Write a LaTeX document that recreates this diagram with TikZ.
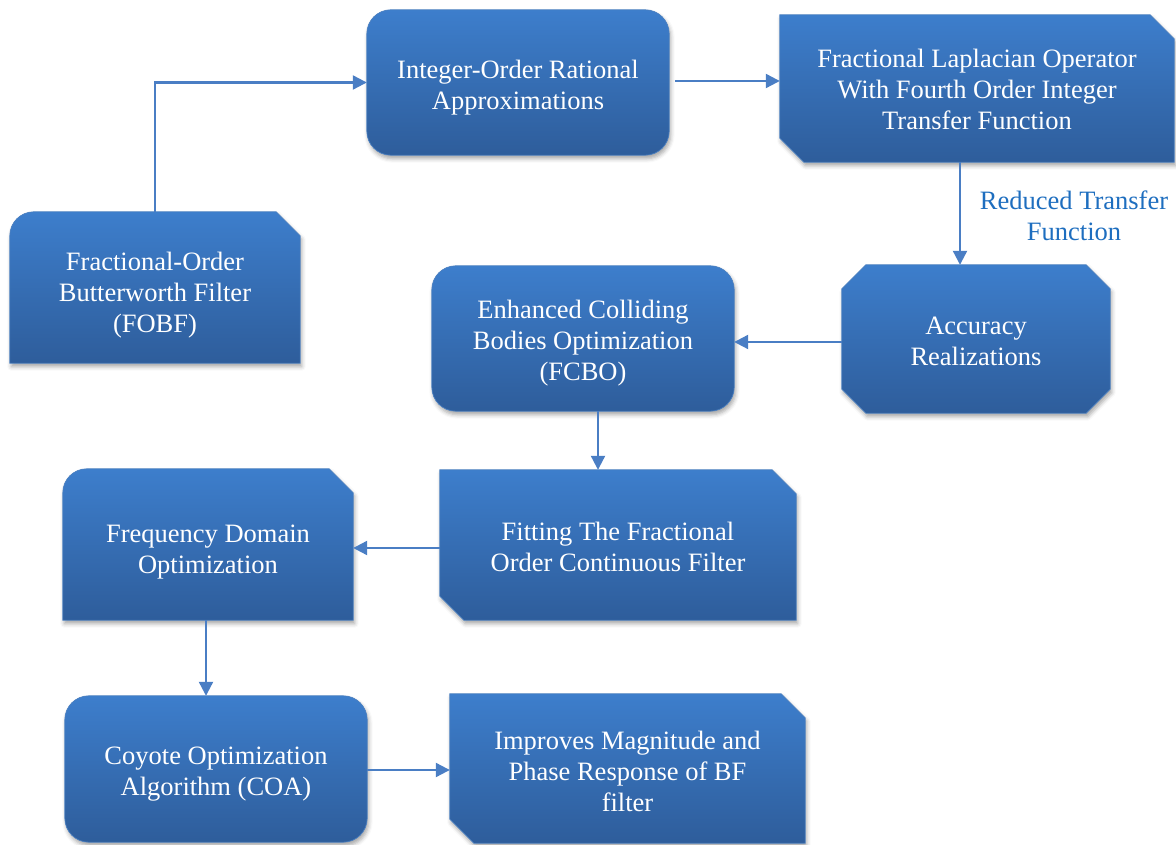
\documentclass[tikz,border=0pt]{standalone}
\usepackage{fontspec}
\setmainfont{Liberation Serif}
\usetikzlibrary{arrows.meta,shadows.blur,backgrounds,calc}
\definecolor{boxtop}{HTML}{3D7ECC}
\definecolor{boxbot}{HTML}{2E5D9B}
\definecolor{boxedge}{HTML}{4A7FC0}
\definecolor{arrowc}{HTML}{4A7EC4}
\definecolor{labelc}{HTML}{1E6EBF}
\newcommand\rr{24pt}
\newcommand\cc{24pt}
\newcommand\lowtext[2]{\raisebox{-#1}[\height][\depth]{\begin{tabular}{@{}c@{}}#2\end{tabular}}}
\tikzset{
  stepnode/.style={rectangle,inner sep=0pt,text=white,align=center,
    font=\fontsize{26.5}{31}\selectfont},
  boxfill/.style={top color=boxtop,bottom color=boxbot,draw=boxedge,line width=0.7pt,
    blur shadow={shadow xshift=1.5pt,shadow yshift=-3.5pt,shadow blur radius=4pt,shadow opacity=35}},
  conn/.style={draw=arrowc,line width=2.2pt,-{Triangle[length=14pt,width=14pt]}},
}
% TL round, TR cut
\newcommand\boxA[1]{\path[boxfill] ([xshift=\rr]#1.north west) -- ([xshift=-\cc]#1.north east)
  -- ([yshift=-\cc]#1.north east) -- (#1.south east) -- (#1.south west)
  -- ([yshift=-\rr]#1.north west) arc[start angle=180,end angle=90,radius=\rr] -- cycle;}
% all round
\newcommand\boxR[1]{\path[boxfill,rounded corners=\rr] (#1.north west) rectangle (#1.south east);}
% TR cut, BL cut
\newcommand\boxD[1]{\path[boxfill] (#1.north west) -- ([xshift=-\cc]#1.north east)
  -- ([yshift=-\cc]#1.north east) -- (#1.south east) -- ([xshift=\cc]#1.south west)
  -- ([yshift=\cc]#1.south west) -- cycle;}
% all cut
\newcommand\boxO[1]{\path[boxfill] ([xshift=\cc]#1.north west) -- ([xshift=-\cc]#1.north east)
  -- ([yshift=-\cc]#1.north east) -- ([yshift=\cc]#1.south east) -- ([xshift=-\cc]#1.south east)
  -- ([xshift=\cc]#1.south west) -- ([yshift=\cc]#1.south west) -- ([yshift=-\cc]#1.north west) -- cycle;}
\begin{document}
\begin{tikzpicture}[x=1pt,y=1pt]
\useasboundingbox (0,0) rectangle (1176,844);
\node[stepnode,minimum width=290pt,minimum height=151pt] (fobf) at (155,556.5)
  {\lowtext{8pt}{Fractional-Order\\Butterworth Filter\\(FOBF)}};
\node[stepnode,minimum width=302pt,minimum height=145pt] (int) at (518,761.5)
  {\lowtext{5pt}{Integer-Order Rational\\Approximations}};
\node[stepnode,minimum width=394pt,minimum height=147pt] (lap) at (977,755.5)
  {\lowtext{4pt}{Fractional Laplacian Operator\\With Fourth Order Integer\\Transfer Function}};
\node[stepnode,minimum width=268pt,minimum height=148pt] (acc) at (976,505)
  {\lowtext{5pt}{Accuracy\\Realizations}};
\node[stepnode,minimum width=302pt,minimum height=145pt] (enh) at (583,505.5)
  {\lowtext{5pt}{Enhanced Colliding\\Bodies Optimization\\(FCBO)}};
\node[stepnode,minimum width=356pt,minimum height=150pt] (fit) at (618,299)
  {\lowtext{4.5pt}{Fitting The Fractional\\Order Continuous Filter}};
\node[stepnode,minimum width=290pt,minimum height=151pt] (freq) at (208,299.5)
  {\lowtext{7pt}{Frequency Domain\\Optimization}};
\node[stepnode,minimum width=302pt,minimum height=146pt] (coy) at (216,75)
  {\lowtext{5pt}{Coyote Optimization\\Algorithm (COA)}};
\node[stepnode,minimum width=355pt,minimum height=149pt] (imp) at (627.5,75.5)
  {\lowtext{5.5pt}{Improves Magnitude and\\Phase Response of BF\\filter}};
\node[align=center,text=labelc,font=\fontsize{26.5}{31}\selectfont] (lbl) at (1074,628)
  {Reduced Transfer\\Function};
\begin{pgfonlayer}{background}
\boxA{fobf}
\boxR{int}
\boxD{lap}
\boxO{acc}
\boxR{enh}
\boxD{fit}
\boxA{freq}
\boxR{coy}
\boxD{imp}
\end{pgfonlayer}
\draw[conn] (fobf.north) |- (int.west);
\draw[conn] ([xshift=6pt,yshift=1.5pt]int.east) -- ([yshift=1.5pt]int.east -| lap.west);
\draw[conn] ([xshift=-17pt]lap.south) -- ([xshift=-17pt]lap.south |- acc.north);
\draw[conn] ([yshift=-3pt]acc.west) -- ([yshift=-3pt]acc.west -| enh.east);
\draw[conn] ([xshift=15pt]enh.south) -- ([xshift=15pt]enh.south |- fit.north);
\draw[conn] ([yshift=-3pt]fit.west) -- ([yshift=-3pt]fit.west -| freq.east);
\draw[conn] ([xshift=-2pt]freq.south) -- ([xshift=-2pt]freq.south |- coy.north);
\draw[conn] ([yshift=-1pt]coy.east) -- ([yshift=-1pt]coy.east -| imp.west);
\end{tikzpicture}
\end{document}
